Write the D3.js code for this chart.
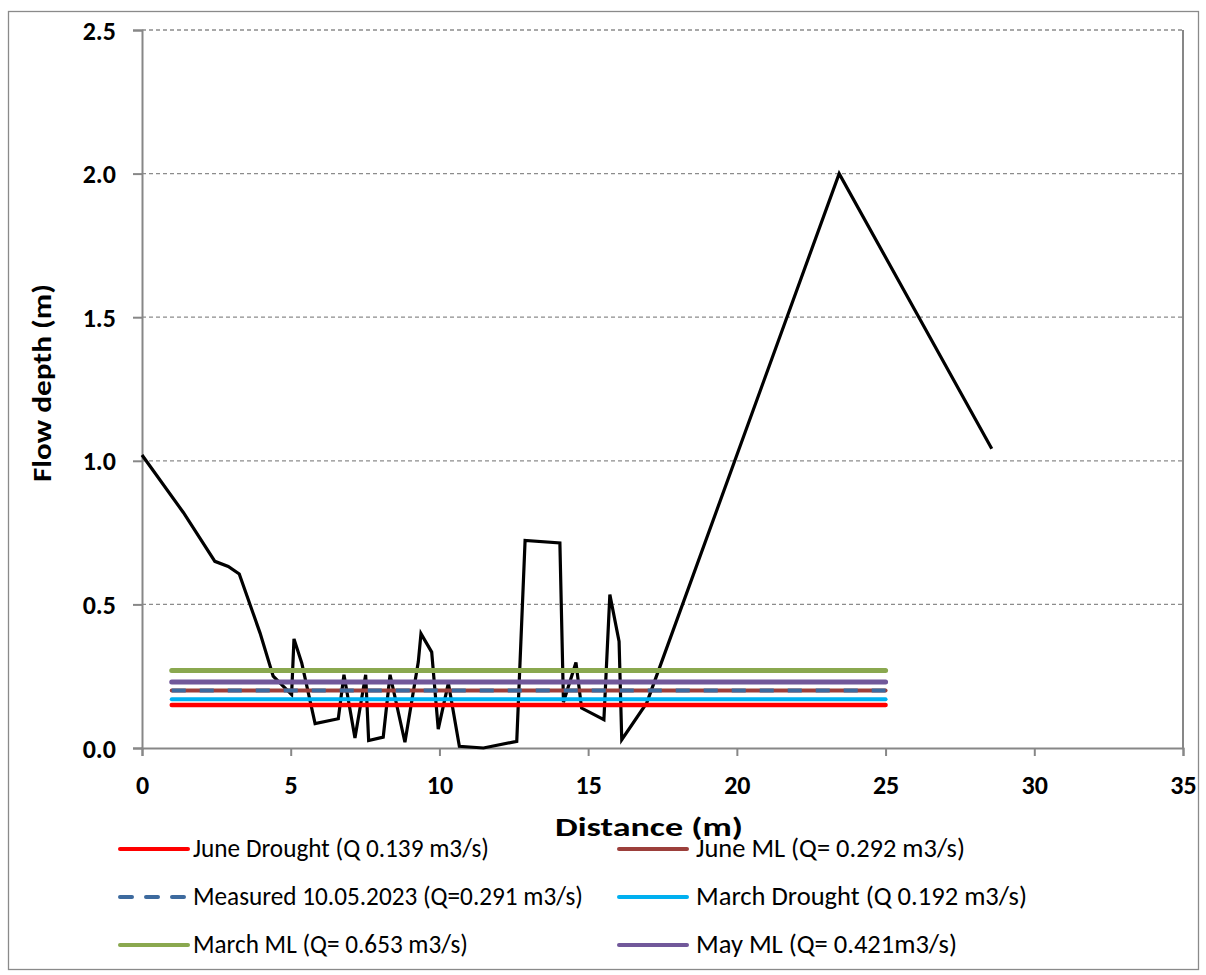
<!DOCTYPE html>
<html>
<head>
<meta charset="utf-8">
<script src="https://cdn.jsdelivr.net/npm/d3@7"></script>
<style>
  html, body { margin: 0; padding: 0; background: #fff; }
  svg { display: block; font-family: Carlito, Lato, sans-serif; }
</style>
</head>
<body>
<svg id="chart" width="1206" height="975"></svg>
<script>
// ---- Data ----
const profileX = [0, 1.39, 2.45, 2.9, 3.27, 3.97, 4.41, 5.03, 5.11, 5.37, 5.82, 6.6, 6.79, 7.16, 7.52, 7.62, 8.11, 8.34, 8.84, 9.29, 9.38, 9.74, 9.96, 10.3, 10.67, 11.48, 12.6, 12.88, 14.05, 14.17, 14.59, 14.78, 15.53, 15.73, 16.04, 16.13, 16.97, 23.44, 28.57];
const profileY = [1.02, 0.82, 0.65, 0.632, 0.606, 0.40, 0.25, 0.186, 0.38, 0.296, 0.085, 0.102, 0.255, 0.035, 0.255, 0.026, 0.038, 0.255, 0.02, 0.30, 0.398, 0.334, 0.066, 0.226, 0.006, 0.0, 0.023, 0.723, 0.714, 0.159, 0.298, 0.139, 0.099, 0.534, 0.371, 0.029, 0.157, 2.0, 1.042];

const levelNames = ["June Drought (Q 0.139 m3/s)", "June ML (Q= 0.292 m3/s)", "Measured 10.05.2023 (Q=0.291 m3/s)", "March Drought (Q 0.192 m3/s)", "March ML (Q= 0.653 m3/s)", "May ML (Q= 0.421m3/s)"];
const levelDepth = [0.15, 0.20, 0.20, 0.17, 0.27, 0.23];
const levelStart = [1, 1, 1, 1, 1, 1];
const levelEnd = [25, 25, 25, 25, 25, 25];
const levelColors = ["#FF0000", "#9C3F3B", "#3D6A9E", "#00B0F0", "#8AA84F", "#71589A"];
const levelDashed = [false, false, true, false, false, false];
const levelWidth = [4.5, 4, 4, 4, 5, 5];

const xTicks = [0, 5, 10, 15, 20, 25, 30, 35];
const yTicks = [0, 0.5, 1.0, 1.5, 2.0, 2.5];
const xTitle = "Distance (m)";
const yTitle = "Flow depth (m)";

// ---- Layout ----
const svg = d3.select("#chart");
const L = 142, R = 1183, T = 30, B = 748;
const x = d3.scaleLinear().domain([0, 35]).range([L, R]);
const y = d3.scaleLinear().domain([0, 2.5]).range([B, T]);
const grey = "#878787";

svg.append("rect").attr("x", 0).attr("y", 0).attr("width", 1206).attr("height", 975).attr("fill", "#fff");
svg.append("rect").attr("x", 8.5).attr("y", 11.5).attr("width", 1190).attr("height", 958)
  .attr("fill", "none").attr("stroke", "#8a8a8a").attr("stroke-width", 1.3);

// gridlines
svg.append("g").selectAll("line").data(yTicks.filter(d => d > 0)).join("line")
  .attr("x1", L).attr("x2", R).attr("y1", d => y(d)).attr("y2", d => y(d))
  .attr("stroke", "#8c8c8c").attr("stroke-width", 1.3).attr("stroke-dasharray", "4,3");

// right plot border
svg.append("line").attr("x1", R).attr("x2", R).attr("y1", T).attr("y2", B)
  .attr("stroke", grey).attr("stroke-width", 2);

// axes
const yAxis = svg.append("g").attr("transform", `translate(${L},0)`)
  .call(d3.axisLeft(y).tickValues(yTicks).tickFormat(d3.format(".1f")).tickSize(9).tickPadding(17));
const xAxis = svg.append("g").attr("transform", `translate(0,${B})`)
  .call(d3.axisBottom(x).tickValues(xTicks).tickFormat(d3.format("d")).tickSize(8).tickPadding(20));
[yAxis, xAxis].forEach(a => {
  a.attr("font-size", 26).attr("font-family", "Carlito, Lato, sans-serif");
  a.select(".domain").attr("stroke", grey).attr("stroke-width", 2);
  a.selectAll(".tick line").attr("stroke", grey).attr("stroke-width", 2);
  a.selectAll(".tick text").attr("fill", "#000").attr("font-weight", "bold")
    .style("font-size", "26px");
});
yAxis.selectAll(".tick text").attr("dy", "0.35em");
xAxis.selectAll(".tick text").attr("dy", "0.68em");

// profile line
const profile = profileX.map((d, i) => [d, profileY[i]]);
svg.append("path").datum(profile)
  .attr("d", d3.line().x(d => x(d[0])).y(d => y(d[1])))
  .attr("fill", "none").attr("stroke", "#000").attr("stroke-width", 3.2).attr("stroke-linejoin", "miter");

// level lines
levelNames.forEach((n, i) => {
  const ln = svg.append("line")
    .attr("x1", x(levelStart[i])).attr("x2", x(levelEnd[i]))
    .attr("y1", y(levelDepth[i])).attr("y2", y(levelDepth[i]))
    .attr("stroke", levelColors[i]).attr("stroke-width", levelWidth[i])
    .attr("stroke-linecap", "round");
  if (levelDashed[i]) ln.attr("stroke-dasharray", "14,14").attr("stroke-linecap", "butt");
});

// axis titles
svg.append("text").attr("x", 649).attr("y", 836).attr("text-anchor", "middle")
  .attr("font-weight", "bold").attr("font-size", 27)
  .attr("textLength", 188).attr("lengthAdjust", "spacingAndGlyphs").text(xTitle);
svg.append("text").attr("transform", "translate(51,383) rotate(-90)").attr("text-anchor", "middle")
  .attr("font-weight", "bold").attr("font-size", 27)
  .attr("textLength", 198).attr("lengthAdjust", "spacingAndGlyphs").text(yTitle);

// legend
const legendTextWidth = [296, 269, 390, 331, 275, 261];
const legendCol = [0, 1, 0, 1, 0, 1];
const legendRow = [0, 0, 1, 1, 2, 2];
const colSymX = [120, 619];
const colTextX = [193, 696];
const rowBase = [857, 905, 953];
const lg = svg.append("g");
levelNames.forEach((n, i) => {
  const c = legendCol[i], r = legendRow[i];
  const sy = rowBase[r] - 8;
  const s = lg.append("line").attr("x1", colSymX[c]).attr("x2", colSymX[c] + 68)
    .attr("y1", sy).attr("y2", sy)
    .attr("stroke", levelColors[i]).attr("stroke-width", 4).attr("stroke-linecap", "round");
  if (levelDashed[i]) s.attr("stroke-dasharray", "12,14");
  lg.append("text").attr("x", colTextX[c]).attr("y", rowBase[r])
    .attr("font-size", 27).attr("fill", "#000")
    .attr("textLength", legendTextWidth[i]).attr("lengthAdjust", "spacingAndGlyphs").text(n);
});
</script>
</body>
</html>
